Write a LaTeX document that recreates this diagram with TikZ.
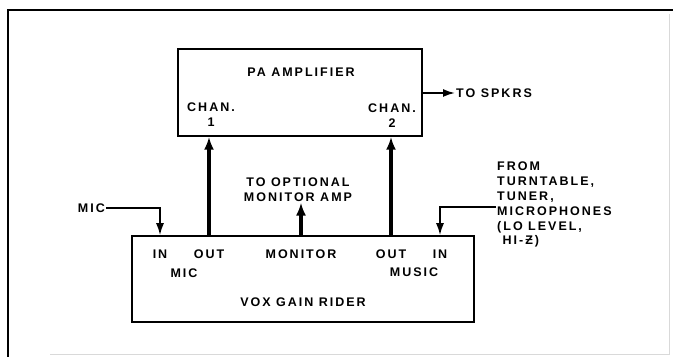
\documentclass[tikz,border=0pt]{standalone}
\usepackage{fontspec}
\setmainfont{Liberation Sans}[LetterSpace=16]
\usetikzlibrary{arrows.meta,positioning,calc}

\begin{document}
\begin{tikzpicture}[x=1pt,y=-1pt,>={Latex[length=12pt,width=8pt]}]
  \tikzstyle{box}=[draw,line width=1.5pt,inner sep=0pt]
  \tikzstyle{lbl}=[inner sep=1pt,align=center,font=\bfseries\fontsize{12.5}{14.8}\selectfont]
  \tikzstyle{wire}=[->,line width=1.8pt]
  \tikzstyle{bus}=[-{Latex[length=13pt,width=10pt]},line width=3.2pt]
  \useasboundingbox (0,0) rectangle (673,358);
  % frame
  \draw[line width=2.6pt] (8,357) -- (8,10) -- (673,10);
  \draw[gray!30,line width=1pt] (50,355) -- (669,355) -- (669,14);
  % boxes
  \node[box,minimum width=244pt,minimum height=87pt] (pa) at (300,92.5) {};
  \node[box,minimum width=342pt,minimum height=86pt] (vox) at (303,279) {};
  \node[lbl] (patitle) at (301,72) {PA AMPLIFIER};
  \node[lbl] (chan1) at (211,114.5) {CHAN.\\1};
  \node[lbl] (chan2) at (392,115.5) {CHAN.\\2};
  \node[lbl,anchor=west] (spkrs) at (455,93) {TO SPKRS};
  \node[lbl] (in1) at (160,254) {IN};
  \node[lbl] (out1) at (209,254) {OUT};
  \node[lbl] (mic) at (184,273) {MIC};
  \node[lbl] (monitor) at (301,254) {MONITOR};
  \node[lbl] (out2) at (391,254) {OUT};
  \node[lbl] (in2) at (440,254) {IN};
  \node[lbl] (music) at (414,272) {MUSIC};
  \node[lbl] (voxtitle) at (303,302) {VOX GAIN RIDER};
  \node[lbl] (optional) at (298,189.5) {TO OPTIONAL\\MONITOR AMP};
  \node[lbl,anchor=east] (micsrc) at (106,208) {MIC};
  \node[lbl,align=left,anchor=north west] (sources) at (496,161) {FROM\\TURNTABLE,\\TUNER,\\MICROPHONES\\(LO LEVEL,\\\ HI-Ƶ)};
  \coordinate (musicsrc) at (496,207);
  % connections
  \draw[wire] (micsrc.east) -| (vox.north -| in1);
  \draw[bus] (vox.north -| out1) -- (pa.south -| out1);
  \draw[bus] (vox.north -| monitor) -- (optional.south -| monitor);
  \draw[bus] (vox.north -| out2) -- (pa.south -| out2);
  \draw[wire] (musicsrc) -| (vox.north -| in2);
  \draw[wire] (pa.east |- spkrs) -- (spkrs.west);
\end{tikzpicture}
\end{document}
